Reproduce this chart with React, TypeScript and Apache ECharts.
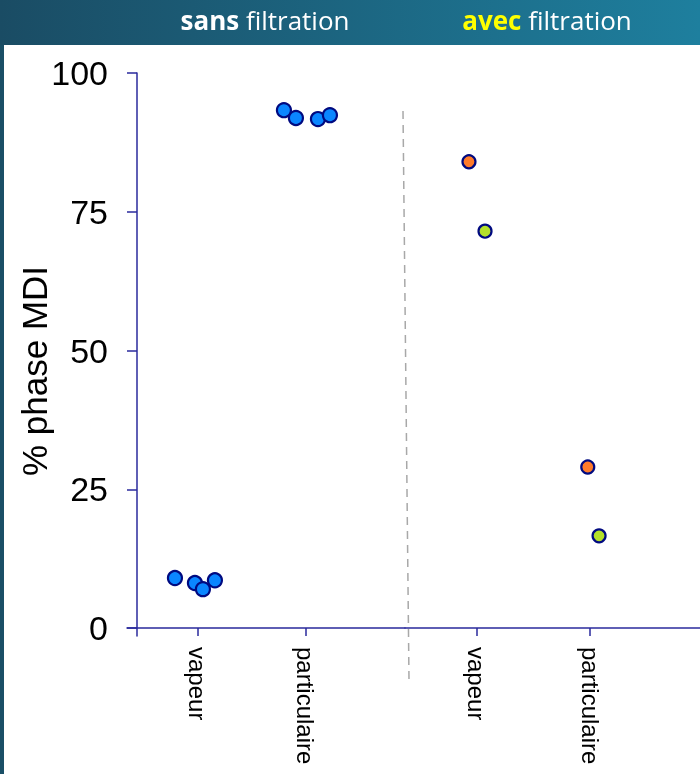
import React, { useEffect, useRef } from "react";
import * as echarts from "echarts";

// Category labels (each panel)
const categories = ["vapeur", "particulaire"];
const panelTitles = ["sans", "avec"];
const yTicks = [0, 25, 50, 75, 100];

// Left panel "sans filtration": [x (category position with jitter), % phase MDI]
const sansVapeur = [
  [0.787, 9.0],
  [0.972, 8.1],
  [1.046, 7.0],
  [1.157, 8.6],
];
const sansParticulaire = [
  [1.796, 93.3],
  [1.907, 91.9],
  [2.111, 91.7],
  [2.222, 92.4],
];

// Right panel "avec filtration"
const avecOrange = [
  [0.929, 84.0],
  [1.98, 29.0],
];
const avecGreen = [
  [1.071, 71.5],
  [2.08, 16.6],
];

const AXIS_COLOR = "#2a2a9c";
const FONT = "Liberation Sans, Arial, sans-serif";
const HEAD_FONT = "Open Sans, Noto Sans, sans-serif";

export default function App() {
  const ref = useRef<HTMLDivElement>(null);

  useEffect(() => {
    if (!ref.current) return;
    const chart = echarts.init(ref.current, null, { renderer: "svg" });

    const xAxisBase = (gridIndex: number, min: number, max: number) => ({
      type: "value",
      gridIndex,
      min,
      max,
      axisLine: { onZero: true, lineStyle: { color: AXIS_COLOR, width: 1.5 } },
      axisTick: {
        show: true,
        length: 8,
        customValues: [1, 2],
        lineStyle: { color: AXIS_COLOR, width: 1.5 },
      },
      axisLabel: {
        customValues: [1, 2],
        rotate: -90,
        margin: 11,
        fontSize: 24,
        color: "#000",
        fontFamily: FONT,
        formatter: (v: number) => categories[Math.round(v) - 1] ?? "",
      },
      splitLine: { show: false },
    });

    const scatterStyle = (fill: string) => ({
      color: fill,
      borderColor: "#000a80",
      borderWidth: 2.2,
      opacity: 1,
    });

    chart.setOption({
      animation: false,
      backgroundColor: "transparent",
      graphic: [
        {
          type: "rect",
          shape: { x: 0, y: 0, width: 700, height: 774 },
          style: { fill: "#1a4f66" },
          z: -10,
        },
        {
          type: "rect",
          shape: { x: 0, y: 0, width: 700, height: 45 },
          style: {
            fill: new echarts.graphic.LinearGradient(0, 0, 1, 0, [
              { offset: 0, color: "#1a4c64" },
              { offset: 1, color: "#1e7f9e" },
            ]),
          },
          z: -9,
        },
        {
          type: "rect",
          shape: { x: 4, y: 45, width: 696, height: 729 },
          style: { fill: "#ffffff" },
          z: -8,
        },
        {
          type: "text",
          x: 265,
          y: 20,
          style: {
            text: `{b|${panelTitles[0]}} filtration`,
            fill: "#ffffff",
            fontSize: 26,
            fontFamily: HEAD_FONT,
            align: "center",
            verticalAlign: "middle",
            rich: {
              b: { fontWeight: "bold", fill: "#ffffff", fontSize: 26, fontFamily: HEAD_FONT },
            },
          },
        },
        {
          type: "text",
          x: 547,
          y: 20,
          style: {
            text: `{y|${panelTitles[1]}} filtration`,
            fill: "#ffffff",
            fontSize: 26,
            fontFamily: HEAD_FONT,
            align: "center",
            verticalAlign: "middle",
            rich: {
              y: { fontWeight: "bold", fill: "#ffff00", fontSize: 26, fontFamily: HEAD_FONT },
            },
          },
        },
        {
          type: "text",
          x: 34,
          y: 371,
          rotation: Math.PI / 2,
          style: {
            text: "% phase MDI",
            fill: "#000",
            fontSize: 35,
            fontFamily: FONT,
            align: "center",
            verticalAlign: "middle",
          },
        },
        {
          type: "line",
          shape: { x1: 403, y1: 111, x2: 409, y2: 680 },
          style: { stroke: "#a8a8a8", lineWidth: 1.5, lineDash: [8, 6] },
          z: 1,
        },
      ],
      grid: [
        { left: 127, right: 295, top: 73, bottom: 138, outerBoundsMode: "none", containLabel: false },
        { left: 405, right: 0, top: 73, bottom: 138, outerBoundsMode: "none", containLabel: false },
      ],
      xAxis: [xAxisBase(0, 0.343, 2.917), xAxisBase(1, 0.363, 2.973)],
      yAxis: [
        {
          type: "value",
          gridIndex: 0,
          min: -1.441,
          max: 100,
          position: "left",
          offset: -10,
          axisLine: { show: true, onZero: false, lineStyle: { color: AXIS_COLOR, width: 1.5 } },
          axisTick: {
            show: true,
            length: 10,
            customValues: yTicks,
            lineStyle: { color: AXIS_COLOR, width: 1.5 },
          },
          axisLabel: {
            customValues: yTicks,
            margin: 29,
            fontSize: 34,
            color: "#000",
            fontFamily: FONT,
          },
          splitLine: { show: false },
        },
        {
          type: "value",
          gridIndex: 1,
          min: -1.441,
          max: 100,
          show: false,
          splitLine: { show: false },
        },
      ],
      series: [
        {
          type: "scatter",
          xAxisIndex: 0,
          yAxisIndex: 0,
          data: sansVapeur,
          symbolSize: 14,
          itemStyle: scatterStyle("#0a86ff"),
        },
        {
          type: "scatter",
          xAxisIndex: 0,
          yAxisIndex: 0,
          data: sansParticulaire,
          symbolSize: 14,
          itemStyle: scatterStyle("#0a86ff"),
        },
        {
          type: "scatter",
          xAxisIndex: 1,
          yAxisIndex: 1,
          data: avecOrange,
          symbolSize: 13,
          itemStyle: scatterStyle("#ff7b2a"),
        },
        {
          type: "scatter",
          xAxisIndex: 1,
          yAxisIndex: 1,
          data: avecGreen,
          symbolSize: 13,
          itemStyle: scatterStyle("#b4e02a"),
        },
      ],
    });

    return () => chart.dispose();
  }, []);

  return (
    <div
      ref={ref}
      style={{ position: "fixed", left: 0, top: 0, width: 700, height: 774 }}
    />
  );
}
